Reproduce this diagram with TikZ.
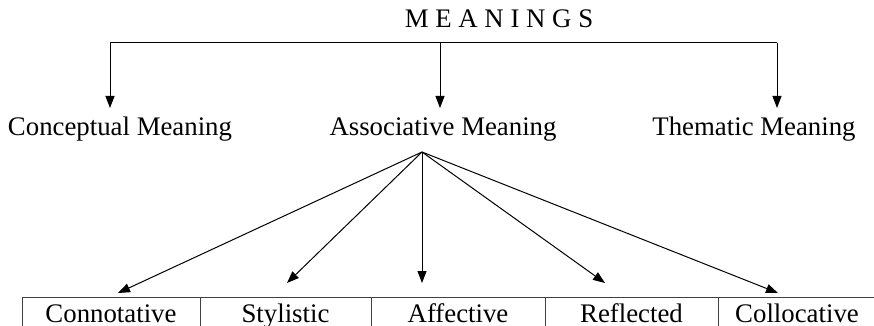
\documentclass[tikz,border=0pt]{standalone}
\usepackage{fontspec}
\setmainfont{Liberation Serif}
\usetikzlibrary{arrows.meta}
\begin{document}
\begin{tikzpicture}[x=1pt,y=-1pt,
  lbl/.style={font=\fontsize{26.8}{30}\selectfont, inner sep=0pt, anchor=base},
  conn/.style={line width=1pt, -{Triangle[length=12pt,width=9pt]}},
  rule/.style={line width=1pt, draw=black!75}]
\useasboundingbox (0,0) rectangle (874,326);
% title
\node[lbl] (top) at (499,28) {\addfontfeature{LetterSpace=25}MEANINGS};
% first level
\node[lbl] (concept) at (120,135) {Conceptual Meaning};
\node[lbl] (assoc) at (443,135) {Associative Meaning};
\node[lbl] (thema) at (754,135) {Thematic Meaning};
\coordinate (hl) at (110,43);
\coordinate (hm) at (440,43);
\coordinate (hr) at (777,43);
\coordinate (tl) at (110,108);
\coordinate (tm) at (440,108);
\coordinate (tr) at (777,108);
\draw[line width=1pt] (hl) -- (hr);
\draw[conn] (hl) -- (tl);
\draw[conn] (hm) -- (tm);
\draw[conn] (hr) -- (tr);
% fan
\coordinate (fan) at (422,152);
\coordinate (a1) at (118,293);
\coordinate (a2) at (287,283);
\coordinate (a3) at (422,283);
\coordinate (a4) at (605,283);
\coordinate (a5) at (778,293);
\draw[conn] (fan) -- (a1);
\draw[conn] (fan) -- (a2);
\draw[conn] (fan) -- (a3);
\draw[conn] (fan) -- (a4);
\draw[conn] (fan) -- (a5);
% table
\coordinate (t0) at (22,297);
\coordinate (t1) at (200,297);
\coordinate (t2) at (371,297);
\coordinate (t3) at (545,297);
\coordinate (t4) at (718,297);
\coordinate (t5) at (874,297);
\draw[rule] (t0) -- (t5);
\foreach \c in {t0,t1,t2,t3,t4} {\draw[rule] (\c) -- ++(0,30);}
\node[lbl] (c1) at (111,322) {Connotative};
\node[lbl] (c2) at (285.5,322) {Stylistic};
\node[lbl] (c3) at (458,322) {Affective};
\node[lbl] (c4) at (631.5,322) {Reflected};
\node[lbl] (c5) at (797,322) {Collocative};
\end{tikzpicture}
\end{document}
